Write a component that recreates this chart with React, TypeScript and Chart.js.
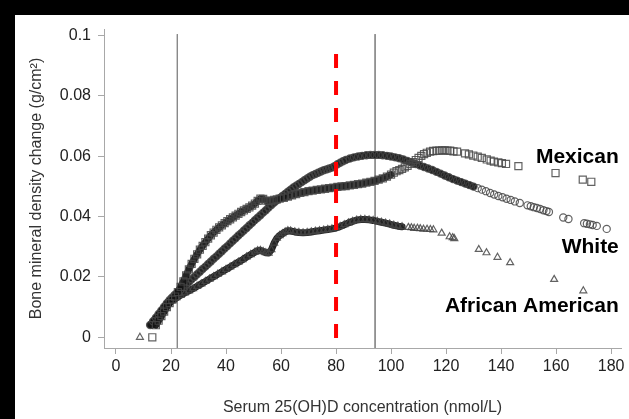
import React, { useEffect, useRef } from "react";
import { Chart, registerables } from "chart.js";

Chart.register(...registerables);

// ---------- data ----------
const xTicks = [0, 20, 40, 60, 80, 100, 120, 140, 160, 180];
const yTicks = [0, 0.02, 0.04, 0.06, 0.08, 0.1];
const yTickLabels = ["0", "0.02", "0.04", "0.06", "0.08", "0.1"];

const xTitle = "Serum 25(OH)D concentration (nmol/L)";
const yTitle = "Bone mineral density change (g/cm\u00B2)";

const seriesNames = ["Mexican", "White", "African American"];
// label anchors (data units): right edge x, baseline y
const labelRightX = 182.8;
const labelBaseY = [0.0577, 0.0279, 0.0084];

const refLinesX = [22.3, 94.2];
const refLineTop = 0.1004;
const cutoffX = 80;
const cutoffTop = 0.0938;

// x-range where each group's points are packed into a solid band
const mexicanBand = [14, 100];
const whiteBand = [12, 131];
const africanBand = [12.5, 104];

const mexicanX = [13.2, 14.5, 15.5, 16.5, 17.5, 18.5, 19.5, 20.5, 21.5, 22.5, 23.5, 24.5, 25.5, 26.5, 27.5, 28.5, 29.5, 30.5, 31.5, 32.5, 33.5, 34.5, 35.5, 36.5, 37.5, 38.5, 39.5, 40.5, 41.5, 42.5, 43.5, 44.5, 45.5, 46.5, 47.5, 48.5, 49.5, 50.5, 51.5, 52.5, 53.5, 54.5, 55.5, 56.5, 57.5, 58.5, 59.5, 61, 62.5, 64, 65.5, 67, 68.5, 70, 71.5, 73, 74.5, 76, 77.5, 79, 80.5, 82, 83.5, 85, 86.5, 88, 89.5, 91, 92.5, 94, 95.5, 97, 98.5, 100, 101, 102, 103, 104, 105, 106, 107, 108, 109, 110, 111, 112, 113, 114.2, 115.3, 116.5, 117.5, 118.5, 119.5, 120.5, 121.5, 122.7, 124, 126.9, 128.3, 129.9, 131.5, 133, 134.8, 136.2, 137.4, 139, 140.3, 141.8, 146.3, 159.8, 169.7, 172.8];
const mexicanY = [0, 0.004, 0.0055, 0.007, 0.0085, 0.01, 0.0113, 0.0125, 0.0135, 0.015, 0.0167, 0.0185, 0.0205, 0.0225, 0.0243, 0.026, 0.0275, 0.029, 0.0303, 0.0315, 0.0327, 0.0338, 0.0347, 0.0356, 0.0364, 0.0371, 0.0378, 0.0385, 0.0391, 0.0397, 0.0403, 0.0409, 0.0415, 0.042, 0.0425, 0.043, 0.0436, 0.0443, 0.0452, 0.0459, 0.0458, 0.0453, 0.0451, 0.0452, 0.0455, 0.0457, 0.0459, 0.0462, 0.0466, 0.047, 0.0474, 0.0478, 0.0481, 0.0484, 0.0486, 0.0488, 0.049, 0.0492, 0.0494, 0.0496, 0.0498, 0.05, 0.0501, 0.0503, 0.0505, 0.0507, 0.0509, 0.0512, 0.0515, 0.0518, 0.0522, 0.0526, 0.0532, 0.0539, 0.0545, 0.055, 0.0554, 0.0558, 0.0563, 0.0568, 0.0574, 0.058, 0.0587, 0.0594, 0.0601, 0.0607, 0.0611, 0.0615, 0.0617, 0.0618, 0.0618, 0.0619, 0.0619, 0.0618, 0.0618, 0.0616, 0.0615, 0.0609, 0.0606, 0.0602, 0.0598, 0.0594, 0.0589, 0.0585, 0.0582, 0.0579, 0.0577, 0.0574, 0.0567, 0.0544, 0.0522, 0.0515];

const whiteX = [12.4, 13.5, 14.5, 15.5, 16.5, 17.5, 18.5, 19.5, 20.5, 21.5, 22.5, 23.5, 24.5, 25.5, 26.5, 27.5, 28.5, 29.5, 30.5, 31.5, 32.5, 33.5, 34.5, 35.5, 36.5, 37.5, 38.5, 39.5, 40.5, 41.5, 42.5, 43.5, 44.5, 45.5, 46.5, 47.5, 48.5, 49.5, 50.5, 51.5, 52.5, 53.5, 54.5, 55.5, 56.5, 57.5, 58.5, 59.5, 60.5, 61.5, 62.5, 63.5, 64.5, 65.5, 66.5, 67.5, 68.5, 69.5, 70.5, 71.5, 72.5, 73.5, 74.5, 75.5, 76.5, 77.5, 78.5, 79.5, 80.5, 81.5, 82.5, 83.5, 85, 86.5, 88, 89.5, 91, 92.5, 94, 95.5, 97, 98.5, 100, 101.5, 103, 104.5, 106, 107.5, 109, 110.5, 112, 113.5, 115, 116.5, 118, 119.5, 121, 122.5, 124, 125.5, 127, 128.5, 130, 131.5, 133, 134.5, 136, 137.5, 139, 140.5, 142, 143.5, 145, 146.8, 149.6, 150.8, 151.9, 153, 154.2, 155.4, 156.5, 157.4, 162.6, 164.5, 170.2, 171.2, 172.3, 173.3, 174.8, 178.4];
const whiteY = [0.0041, 0.0053, 0.0065, 0.0077, 0.0089, 0.0101, 0.0113, 0.0124, 0.0133, 0.0142, 0.015, 0.0158, 0.0166, 0.0175, 0.0183, 0.0192, 0.02, 0.0209, 0.0217, 0.0226, 0.0234, 0.0243, 0.0251, 0.026, 0.0268, 0.0277, 0.0285, 0.0294, 0.0302, 0.0311, 0.032, 0.0328, 0.0337, 0.0345, 0.0354, 0.0362, 0.0371, 0.0379, 0.0388, 0.0396, 0.0404, 0.0413, 0.0421, 0.043, 0.0438, 0.0446, 0.0454, 0.0461, 0.0468, 0.0475, 0.0482, 0.0489, 0.0496, 0.0502, 0.0508, 0.0514, 0.052, 0.0526, 0.0532, 0.0537, 0.0541, 0.0545, 0.0549, 0.0553, 0.0556, 0.0559, 0.0562, 0.0567, 0.0573, 0.0578, 0.0583, 0.0587, 0.0592, 0.0596, 0.0599, 0.0601, 0.0603, 0.0604, 0.0604, 0.0604, 0.0603, 0.0601, 0.0599, 0.0596, 0.0593, 0.0589, 0.0584, 0.0579, 0.0574, 0.0569, 0.0564, 0.0559, 0.0554, 0.0548, 0.0542, 0.0536, 0.053, 0.0524, 0.0519, 0.0514, 0.0509, 0.0504, 0.0499, 0.0494, 0.0489, 0.0484, 0.0478, 0.0473, 0.0468, 0.0464, 0.0459, 0.0455, 0.045, 0.0445, 0.0437, 0.0434, 0.0431, 0.0428, 0.0425, 0.0421, 0.0418, 0.0415, 0.0397, 0.0392, 0.0378, 0.0376, 0.0374, 0.0372, 0.0369, 0.0359];

const africanX = [8.7, 13, 14.5, 16, 17.5, 19, 20.5, 22, 23.5, 25, 26.5, 28, 29.5, 31, 32.5, 34, 35.5, 37, 38.5, 40, 41.5, 43, 44.5, 46, 47.5, 49, 50.5, 51.5, 52.5, 53.5, 54.5, 55.5, 56.5, 57.5, 58.5, 59.5, 60.5, 61.5, 62.5, 63.5, 65, 66.5, 68, 69.5, 71, 72.5, 74, 75.5, 77, 78.5, 80, 81.5, 83, 84.5, 86, 87.5, 89, 90.5, 92, 93.5, 95, 96.5, 98, 99.5, 101, 102.5, 104, 106.3, 107.4, 108.4, 109.6, 110.6, 111.8, 113.1, 114.3, 115.4, 118.4, 121.3, 122.4, 123, 131.9, 134.7, 138.7, 143.3, 159.3, 169.9];
const africanY = [0, 0.004, 0.006, 0.008, 0.0097, 0.0111, 0.0122, 0.0131, 0.0139, 0.0147, 0.0154, 0.0161, 0.0169, 0.0177, 0.0185, 0.0193, 0.0201, 0.0209, 0.0217, 0.0225, 0.0233, 0.0241, 0.0249, 0.0257, 0.0266, 0.0274, 0.0282, 0.0287, 0.0288, 0.0284, 0.028, 0.0279, 0.029, 0.0312, 0.0328, 0.0337, 0.0343, 0.0349, 0.0353, 0.0352, 0.0349, 0.0347, 0.0346, 0.0347, 0.0349, 0.0351, 0.0353, 0.0355, 0.0357, 0.0359, 0.0362, 0.0367, 0.0373, 0.0379, 0.0384, 0.0388, 0.039, 0.039, 0.0389, 0.0387, 0.0384, 0.0381, 0.0378, 0.0375, 0.0371, 0.0368, 0.0366, 0.0364, 0.0363, 0.0361, 0.0361, 0.036, 0.0358, 0.0358, 0.0357, 0.0356, 0.0345, 0.0333, 0.033, 0.0327, 0.0291, 0.028, 0.0265, 0.0247, 0.0192, 0.0154];

// ---------- helpers ----------
const toPoints = (xs: number[], ys: number[]) => xs.map((x, i) => ({ x, y: ys[i] }));

const FONT = '"Liberation Sans", Arial, Helvetica, sans-serif';
const MARK = "rgba(70,70,70,0.85)";
const BAND = "rgba(18,18,18,0.93)";

const X_MIN = -4.36;
const X_MAX = 183.6;
const Y_MIN = -0.00354;
const Y_MAX = 0.1021;

const groupLabelPlugin = {
  id: "groupLabels",
  afterDatasetsDraw(chart: any) {
    const { ctx, scales } = chart;
    ctx.save();
    ctx.font = `bold 21px ${FONT}`;
    ctx.fillStyle = "#000";
    ctx.textAlign = "right";
    ctx.textBaseline = "alphabetic";
    seriesNames.forEach((name, i) => {
      ctx.fillText(name, scales.x.getPixelForValue(labelRightX), scales.y.getPixelForValue(labelBaseY[i]));
    });
    ctx.restore();
  },
};

const scatterSeries = (
  label: string,
  xs: number[],
  ys: number[],
  band: number[],
  pointStyle: string,
  pointRadius: number
) => ({
  label,
  data: toPoints(xs, ys),
  showLine: true,
  borderWidth: 7,
  borderCapStyle: "round",
  borderJoinStyle: "round",
  segment: {
    borderColor: (ctx: any) =>
      ctx.p0.parsed.x >= band[0] && ctx.p1.parsed.x <= band[1] ? BAND : "rgba(0,0,0,0)",
  },
  pointStyle,
  pointRadius,
  pointBorderColor: MARK,
  pointBackgroundColor: "rgba(0,0,0,0)",
  pointBorderWidth: 1.2,
  order: 1,
});

export default function App() {
  const ref = useRef<HTMLCanvasElement | null>(null);

  useEffect(() => {
    if (!ref.current) return;
    const vline = (x: number, top: number) => [
      { x, y: top },
      { x, y: Y_MIN },
    ];
    const chart = new Chart(ref.current, {
      type: "scatter",
      data: {
        datasets: [
          {
            label: "cutoff",
            data: vline(cutoffX, cutoffTop),
            showLine: true,
            borderColor: "#ff0000",
            borderWidth: 4,
            borderDash: [14, 13],
            pointRadius: 0,
            order: 0,
          },
          scatterSeries(seriesNames[0], mexicanX, mexicanY, mexicanBand, "rect", 5),
          scatterSeries(seriesNames[1], whiteX, whiteY, whiteBand, "circle", 3.6),
          scatterSeries(seriesNames[2], africanX, africanY, africanBand, "triangle", 4),
          ...refLinesX.map((x) => ({
            label: "ref",
            data: vline(x, refLineTop),
            showLine: true,
            borderColor: "#8a8a8a",
            borderWidth: 1,
            pointRadius: 0,
            order: 2,
          })),
        ],
      },
      options: {
        animation: false,
        responsive: false,
        devicePixelRatio: 1,
        layout: { padding: { left: 0, top: 29, right: 8, bottom: 0 } },
        plugins: { legend: { display: false }, tooltip: { enabled: false } },
        scales: {
          x: {
            type: "linear",
            min: X_MIN,
            max: X_MAX,
            afterBuildTicks: (s: any) => {
              s.ticks = xTicks.map((v) => ({ value: v }));
            },
            afterFit: (s: any) => {
              s.height = 71;
            },
            grid: { drawOnChartArea: false, drawTicks: true, tickLength: 6, color: "#a8a8a8" },
            border: { display: true, color: "#a8a8a8", width: 1 },
            ticks: {
              padding: 3,
              color: "#222",
              font: { family: FONT, size: 16 },
              maxRotation: 0,
              autoSkip: false,
              callback: (v: any) => String(v),
            },
            title: {
              display: true,
              text: xTitle,
              color: "#333",
              font: { family: FONT, size: 16 },
              padding: { top: 0, bottom: 2 },
            },
          },
          y: {
            type: "linear",
            min: Y_MIN,
            max: Y_MAX,
            afterBuildTicks: (s: any) => {
              s.ticks = yTicks.map((v) => ({ value: v }));
            },
            afterFit: (s: any) => {
              s.width = 104;
            },
            grid: { drawOnChartArea: false, drawTicks: true, tickLength: 6, color: "#a8a8a8" },
            border: { display: true, color: "#a8a8a8", width: 1 },
            ticks: {
              padding: 7,
              color: "#222",
              font: { family: FONT, size: 16 },
              autoSkip: false,
              callback: (v: any) => {
                const i = yTicks.findIndex((t) => Math.abs(t - Number(v)) < 1e-9);
                return i >= 0 ? yTickLabels[i] : "";
              },
            },
            title: {
              display: true,
              text: yTitle,
              color: "#333",
              font: { family: FONT, size: 16 },
              padding: { top: 27, bottom: 0 },
            },
          },
        },
      },
      plugins: [groupLabelPlugin],
    } as any);
    return () => chart.destroy();
  }, []);

  return (
    <div style={{ position: "fixed", left: 0, top: 0, width: 629, height: 419, background: "#fff", overflow: "hidden" }}>
      <canvas ref={ref} width={629} height={419} style={{ display: "block", width: 629, height: 419 }} />
      <div style={{ position: "absolute", left: 0, top: 0, width: 629, height: 15, background: "#000" }} />
      <div style={{ position: "absolute", left: 0, top: 0, width: 15, height: 419, background: "#000" }} />
    </div>
  );
}
